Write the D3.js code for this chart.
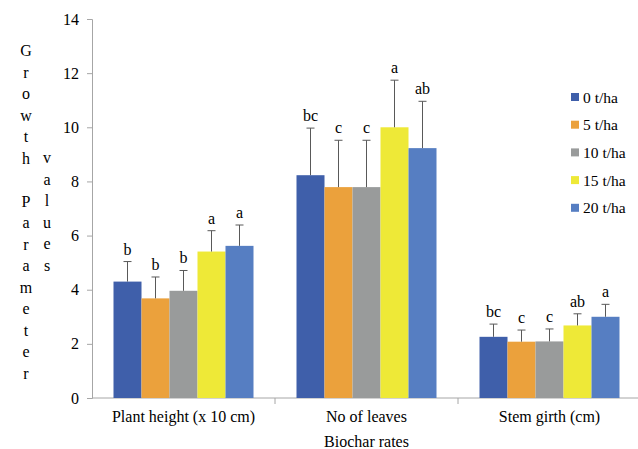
<!DOCTYPE html>
<html>
<head>
<meta charset="utf-8">
<script src="https://cdn.jsdelivr.net/npm/d3@7"></script>
<style>
  body { margin: 0; background: #fff; }
</style>
</head>
<body>
<div id="chart"></div>
<script>
// Chart data
const categories = ['Plant height (x 10 cm)', 'No of leaves', 'Stem girth (cm)'];
const series = ['0 t/ha', '5 t/ha', '10 t/ha', '15 t/ha', '20 t/ha'];
const colors = ['#3f5faa', '#eba13c', '#999b9b', '#eee937', '#567ec2'];

// mean values per series, one entry per category
const means = [
  [4.30, 8.23, 2.26],
  [3.68, 7.79, 2.08],
  [3.96, 7.79, 2.09],
  [5.41, 10.00, 2.68],
  [5.62, 9.23, 3.00]
];
// error bar tops (mean + error)
const errTops = [
  [5.04, 9.97, 2.73],
  [4.47, 9.52, 2.51],
  [4.71, 9.52, 2.55],
  [6.18, 11.74, 3.11],
  [6.39, 10.96, 3.46]
];
const letters = [
  ['b', 'bc', 'bc'],
  ['b', 'c', 'c'],
  ['b', 'c', 'c'],
  ['a', 'a', 'ab'],
  ['a', 'ab', 'a']
];
const yTicks = [0, 2, 4, 6, 8, 10, 12, 14];

const width = 638;
const height = 449;
const margin = { top: 19, right: -3, bottom: 51, left: 92 };
const font = 'Liberation Serif';
const fs = 16;

const svg = d3.select('#chart')
  .append('svg')
  .attr('width', width)
  .attr('height', height)
  .attr('font-family', font);

const x0 = d3.scaleBand()
  .domain(categories)
  .range([margin.left, width - margin.right]);

// five bars of ~28px centred in each category band
const x1 = d3.scaleBand()
  .domain(series)
  .range([0, 140]);

const y = d3.scaleLinear()
  .domain([0, 14])
  .range([height - margin.bottom, margin.top]);

const axisColor = '#a6a6a6';

// y axis
const yAxis = svg.append('g')
  .attr('transform', `translate(${margin.left},0)`)
  .call(d3.axisLeft(y).tickValues(yTicks).tickSize(5).tickPadding(8).tickFormat(d3.format('d')))
  .attr('font-family', font)
  .attr('font-size', fs);
yAxis.select('.domain').attr('stroke', axisColor);
yAxis.selectAll('.tick line').attr('stroke', axisColor);
yAxis.selectAll('.tick text').attr('fill', '#000');

// x axis: ticks sit on band boundaries, labels under band centres
const xAxisG = svg.append('g')
  .attr('transform', `translate(0,${y(0)})`);
xAxisG.append('line')
  .attr('x1', margin.left)
  .attr('x2', width)
  .attr('stroke', axisColor);
xAxisG.selectAll('.sep')
  .data(categories.slice(1))
  .enter()
  .append('line')
  .attr('x1', d => x0(d))
  .attr('x2', d => x0(d))
  .attr('y1', 0)
  .attr('y2', 6)
  .attr('stroke', axisColor);
xAxisG.selectAll('.lab')
  .data(categories)
  .enter()
  .append('text')
  .attr('x', d => x0(d) + x0.bandwidth() / 2)
  .attr('y', 24)
  .attr('text-anchor', 'middle')
  .attr('font-size', fs)
  .text(d => d);

svg.append('text')
  .attr('x', x0(categories[1]) + x0.bandwidth() / 2)
  .attr('y', 447)
  .attr('text-anchor', 'middle')
  .attr('font-size', fs)
  .text('Biochar rates');

// bars
const groups = svg.selectAll('.grp')
  .data(categories)
  .enter()
  .append('g')
  .attr('transform', d => `translate(${x0(d) + (x0.bandwidth() - 140) / 2},0)`);

groups.each(function(cat, ci) {
  const g = d3.select(this);
  series.forEach((s, si) => {
    const bx = x1(s);
    const cx = bx + x1.bandwidth() / 2;
    g.append('rect')
      .attr('x', bx)
      .attr('y', y(means[si][ci]))
      .attr('width', x1.bandwidth())
      .attr('height', y(0) - y(means[si][ci]))
      .attr('fill', colors[si]);

    // error bar (upper half only) and its cap
    g.append('line')
      .attr('x1', cx).attr('x2', cx)
      .attr('y1', y(means[si][ci]))
      .attr('y2', y(errTops[si][ci]))
      .attr('stroke', '#595959');
    g.append('line')
      .attr('x1', cx - 4).attr('x2', cx + 4)
      .attr('y1', y(errTops[si][ci]))
      .attr('y2', y(errTops[si][ci]))
      .attr('stroke', '#595959');

    g.append('text')
      .attr('x', cx)
      .attr('y', y(errTops[si][ci]) - 7)
      .attr('text-anchor', 'middle')
      .attr('font-size', fs)
      .text(letters[si][ci]);
  });
});

// legend
const legend = svg.append('g')
  .attr('transform', 'translate(571,97)');
series.forEach((s, i) => {
  const row = legend.append('g').attr('transform', `translate(0,${i * 27.7})`);
  row.append('rect')
    .attr('x', 0)
    .attr('y', -4)
    .attr('width', 8)
    .attr('height', 8)
    .attr('fill', colors[i]);
  row.append('text')
    .attr('x', 12)
    .attr('y', 5.5)
    .attr('font-size', 15.5)
    .text(s);
});

// stacked-letter y axis title
const title1 = 'Growth Parameter'.split('');
const title2 = 'values'.split('');
svg.append('g')
  .selectAll('text')
  .data(title1)
  .enter()
  .append('text')
  .attr('x', 26)
  .attr('y', (d, i) => 56 + i * 21.5)
  .attr('text-anchor', 'middle')
  .attr('font-size', fs)
  .text(d => d);
svg.append('g')
  .selectAll('text')
  .data(title2)
  .enter()
  .append('text')
  .attr('x', 47)
  .attr('y', (d, i) => 163 + i * 21.5)
  .attr('text-anchor', 'middle')
  .attr('font-size', fs)
  .text(d => d);
</script>
</body>
</html>
